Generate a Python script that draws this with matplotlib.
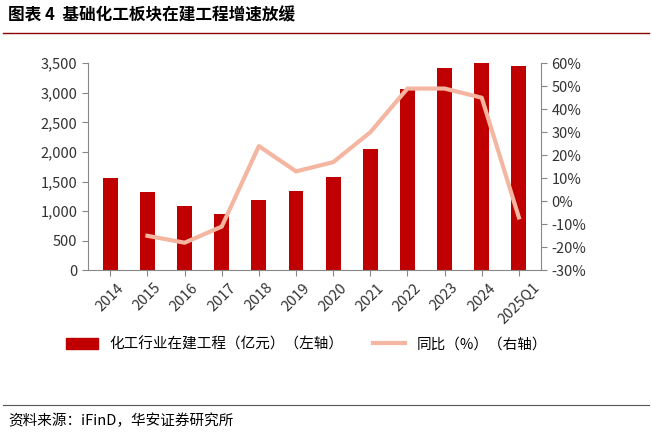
import matplotlib
matplotlib.use("Agg")
import matplotlib.pyplot as plt
from matplotlib.lines import Line2D

plt.rcParams['font.family'] = ['Noto Sans CJK SC', 'DejaVu Sans']

years = ["2014","2015","2016","2017","2018","2019","2020","2021","2022","2023","2024","2025Q1"]
bars = [1560,1320,1080,960,1190,1340,1580,2050,3060,3420,3500,3460]
yoy_years = years[1:]
yoy = [-15,-18,-11,24,13,17,30,49,49,45,-7]

fig = plt.figure(figsize=(6.52,4.36), dpi=100)
ax = fig.add_axes([0.135, 0.38, 0.695, 0.475])
x = list(range(len(years)))
ax.bar(x, bars, width=0.4, color="#C00000")
ax.set_ylim(0,3500)
ax.set_yticks(range(0,3501,500))
ax.set_yticklabels([f"{v:,}" for v in range(0,3501,500)], fontsize=10.5, color="#333333")
ax.set_xlim(-0.6, len(years)-0.4)
ax.set_xticks(x)
ax.set_xticklabels(years, rotation=45, fontsize=10.5, color="#333333")
ax2 = ax.twinx()
ax2.plot(x[1:], yoy, color="#F4B6A0", lw=3)
ax2.set_ylim(-30,60)
ax2.set_yticks(range(-30,61,10))
ax2.set_yticklabels([f"{v}%" for v in range(-30,61,10)], fontsize=10.5, color="#333333")
for a in (ax, ax2):
    for s in a.spines.values():
        s.set_visible(False)
    a.tick_params(length=4, color="#888888")
ax.spines['left'].set_visible(True); ax.spines['left'].set_color("#888888")
ax.spines['bottom'].set_visible(True); ax.spines['bottom'].set_color("#888888")
ax2.spines['right'].set_visible(True); ax2.spines['right'].set_color("#888888")

handles = [plt.Rectangle((0,0),1,1,color="#C00000"), Line2D([0],[0],color="#F4B6A0",lw=3)]
fig.legend(handles, ["化工行业在建工程（亿元）（左轴）","同比（%）（右轴）"], loc="center",
           bbox_to_anchor=(0.47,0.21), ncol=2, frameon=False, fontsize=10.5,
           handlelength=2.2, columnspacing=2)

fig.text(0.012, 0.965, "图表 4  基础化工板块在建工程增速放缓", fontsize=12, fontweight="bold", va="center")
fig.add_artist(Line2D([0.005,0.995],[0.925,0.925], color="#8B0000", lw=1))
fig.add_artist(Line2D([0.005,0.995],[0.072,0.072], color="#555555", lw=0.8))
fig.text(0.012, 0.035, "资料来源：iFinD，华安证券研究所", fontsize=10.5, va="center")
fig.savefig("out.png")
